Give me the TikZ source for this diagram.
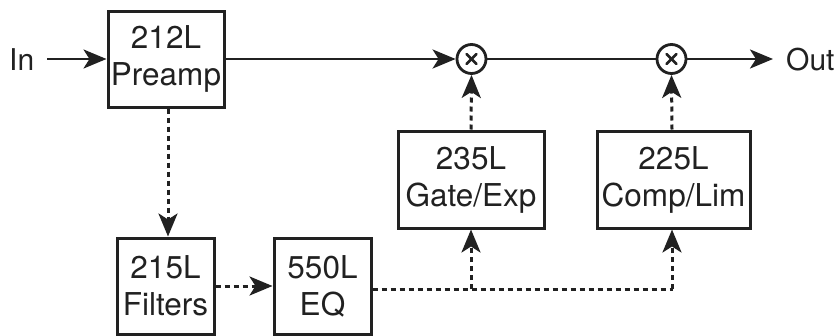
\documentclass[tikz,border=0pt]{standalone}
\usepackage{fontspec}
\setmainfont{TeX Gyre Heros}
\usetikzlibrary{arrows.meta}
\begin{document}
\begin{tikzpicture}[x=1pt,y=-1pt,
  box/.style={draw, line width=3pt, inner sep=0pt, align=center, font=\fontsize{31.5}{37}\selectfont, color=black!87},
  mult/.style={draw, circle, line width=2.8pt, minimum size=29pt, inner sep=0pt, color=black!87},
  lbl/.style={font=\fontsize{30}{36}\selectfont, inner sep=0pt, color=black!87},
  sig/.style={line width=2.8pt, color=black!87},
  ctl/.style={line width=3pt, color=black!87, dash pattern=on 5pt off 4pt},
  tip/.style={-{Stealth[length=23pt,width=19pt,inset=6pt]}}]
\useasboundingbox (0,0) rectangle (838,335);
\node[box, minimum width=116pt, minimum height=96pt] (pre) at (166,59) {212L\\Preamp};
\node[box, minimum width=97pt, minimum height=96pt] (fil) at (165.5,286) {215L\\Filters};
\node[box, minimum width=97pt, minimum height=96pt] (eq) at (322.5,286) {550L\\EQ};
\node[box, minimum width=146pt, minimum height=97pt] (gate) at (471,179.5) {235L\\Gate/Exp};
\node[box, minimum width=153pt, minimum height=97pt] (comp) at (673.5,179.5) {225L\\Comp/Lim};
\node[mult] (m1) at (471.5,59) {};
\node[mult] (m2) at (671.5,59) {};
\foreach \m in {m1,m2}{
  \draw[sig, line width=2.8pt, line cap=round] ([shift={(-5,-5)}]\m.center) -- ([shift={(5,5)}]\m.center);
  \draw[sig, line width=2.8pt, line cap=round] ([shift={(-5,5)}]\m.center) -- ([shift={(5,-5)}]\m.center);
}
\node[lbl, anchor=west] (in) at (9,60) {In};
\node[lbl, anchor=west] (out) at (786,60) {Out};
\coordinate (inS) at (47,59);
\coordinate (outE) at (773,59);
\draw[sig, tip] (inS) -- (pre.west);
\draw[sig, tip] (pre.east) -- (m1.west);
\draw[sig] (m1.east) -- (m2.west);
\draw[sig, tip] (m2.east) -- (outE);
\coordinate (preS) at ([xshift=2pt]pre.south);
\draw[ctl, tip] (preS) -- (preS |- fil.north);
\draw[ctl, tip] (fil.east) -- (eq.west);
\coordinate (eqE) at ([yshift=-3pt]eq.east);
\coordinate (br2) at (comp.south |- eqE);
\coordinate (br1) at (gate.south |- eqE);
\draw[ctl] (eqE) -- ([xshift=-1pt]br2);
\draw[ctl, tip] (br1) -- (gate.south);
\draw[ctl, tip] ([xshift=-1.5pt]br2) -- ([xshift=-1.5pt]comp.south);
\draw[ctl, tip] (gate.north) -- (m1.south);
\draw[ctl, tip] ([xshift=-1.5pt]comp.north) -- (m2.south);
\end{tikzpicture}
\end{document}
